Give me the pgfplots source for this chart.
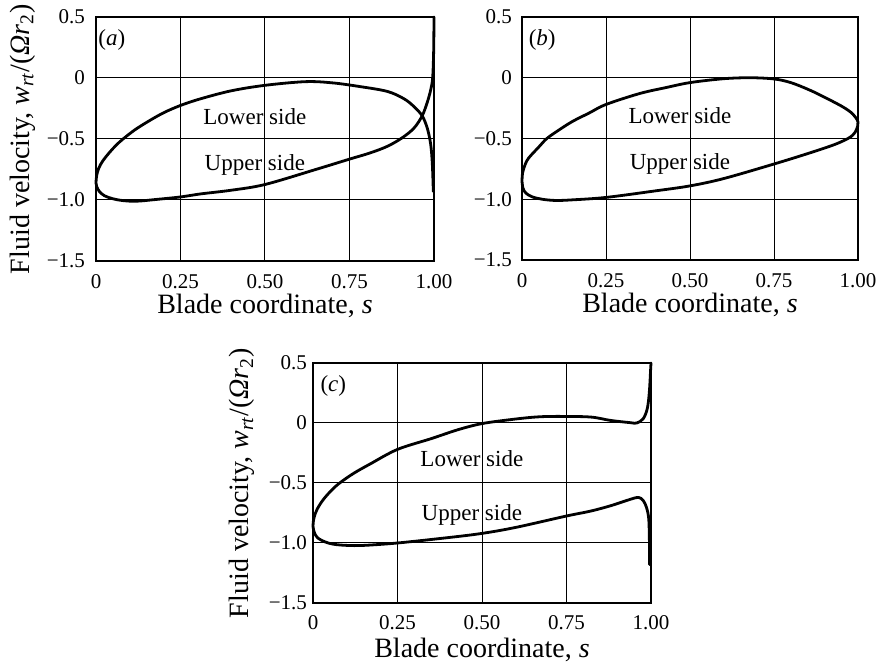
\documentclass[border=0pt]{standalone}
\usepackage{fontspec}
\setmainfont{Liberation Serif}
\usepackage{pgfplots}
\pgfplotsset{compat=1.18}

\pgfplotsset{
  panel/.style={
    scale only axis,
    width=169pt, height=122pt,
    xmin=0, xmax=1, ymin=-1.5, ymax=0.5,
    xtick={0,0.25,0.5,0.75,1},
    xticklabels={0,0.25,0.50,0.75,1.00},
    ytick={-1.5,-1,-0.5,0,0.5},
    yticklabels={−1.5,−1.0,−0.5,0,0.5},
    grid=major,
    major grid style={black, line width=0.5pt},
    major tick length=0pt,
    axis line style={black, line width=0.9pt},
    tick label style={font=\fontsize{10.5}{12}\selectfont},
    label style={font=\fontsize{14}{17}\selectfont},
    /pgf/number format/assume math mode=true,
    clip=false,
  },
}
\tikzset{
  curve/.style={black, line width=1.4pt, smooth, tension=0.55, line join=round, line cap=round},
  txt/.style={font=\fontsize{11.5}{14}\selectfont, inner sep=0pt},
}

\newcommand{\ylab}{Fluid velocity, \textit{w}\textsubscript{\textit{rt}}/(\textit{Ωr}\textsubscript{2})}
\newcommand{\xlab}{Blade coordinate, \textit{s}}

\begin{document}
\begin{tikzpicture}
\useasboundingbox (0,0) rectangle (442.5pt,332pt);

% ---------------- (a)
\begin{axis}[panel, at={(48pt,201.5pt)}, anchor=south west,
  xticklabel style={yshift=-3pt},
  yticklabel style={xshift=-2pt},
  ylabel={\ylab}, xlabel={\xlab},
  y label style={at={(axis description cs:-0.218,0.5)}, anchor=center},
  x label style={at={(axis description cs:0.5,-0.217)}, anchor=base},
]
\addplot[curve, mark=none] coordinates {
(1.000,0.50) (0.999,0.22) (0.996,0.0) (0.990,-0.10) (0.980,-0.20) (0.965,-0.31)
(0.941,-0.41) (0.906,-0.49) (0.862,-0.56) (0.81,-0.615) (0.75,-0.665) (0.65,-0.75)
(0.50,-0.873) (0.40,-0.92) (0.31,-0.95) (0.25,-0.975) (0.18,-0.995) (0.12,-1.01)
(0.08,-1.005) (0.05,-0.99) (0.025,-0.965) (0.01,-0.93) (0.002,-0.89) (0.0,-0.86)
(0.002,-0.80) (0.008,-0.74) (0.02,-0.68) (0.04,-0.61) (0.06,-0.55) (0.08,-0.50) (0.115,-0.425)
(0.155,-0.355) (0.20,-0.285) (0.25,-0.225) (0.31,-0.17) (0.40,-0.105) (0.50,-0.06)
(0.62,-0.03) (0.70,-0.04) (0.78,-0.07) (0.862,-0.11) (0.911,-0.17) (0.941,-0.235)
(0.965,-0.31) (0.980,-0.41) (0.990,-0.54) (0.995,-0.70) (0.998,-0.93)
};
\node[txt] at (axis cs:0.047,0.31) {(\textit{a})};
\node[txt] at (axis cs:0.47,-0.32) {Lower side};
\node[txt] at (axis cs:0.47,-0.71) {Upper side};
\end{axis}

% ---------------- (b)
\begin{axis}[panel, at={(261pt,202pt)}, anchor=south west,
  width=168pt, height=121.5pt,
  xticklabel style={yshift=-3pt},
  yticklabel style={xshift=-1.5pt},
  xlabel={\xlab},
  x label style={at={(axis description cs:0.5,-0.217)}, anchor=base},
]
\addplot[curve, mark=none] coordinates {
(0.0,-0.85) (0.002,-0.78) (0.01,-0.71) (0.02,-0.66) (0.05,-0.57) (0.074,-0.50)
(0.11,-0.43) (0.15,-0.36) (0.20,-0.29) (0.25,-0.22) (0.35,-0.13) (0.43,-0.08)
(0.50,-0.04) (0.60,-0.008) (0.68,0.0) (0.75,-0.01) (0.80,-0.04) (0.855,-0.10)
(0.90,-0.16) (0.955,-0.24) (0.985,-0.30) (1.0,-0.365) (0.995,-0.43) (0.985,-0.47)
(0.97,-0.50) (0.93,-0.55) (0.855,-0.62) (0.75,-0.71) (0.60,-0.83) (0.50,-0.89)
(0.40,-0.93) (0.25,-0.985) (0.15,-1.005) (0.10,-1.01) (0.06,-1.0) (0.03,-0.98)
(0.012,-0.95) (0.003,-0.91) (0.0,-0.85)
};
\node[txt] at (axis cs:0.06,0.31) {(\textit{b})};
\node[txt] at (axis cs:0.47,-0.31) {Lower side};
\node[txt] at (axis cs:0.47,-0.71) {Upper side};
\end{axis}

% ---------------- (c)
\begin{axis}[panel, at={(156.5pt,30.5pt)}, anchor=south west,
  height=120pt,
  xticklabel style={yshift=-2.7pt},
  yticklabel style={xshift=0.5pt},
  ylabel={\ylab}, xlabel={\xlab},
  y label style={at={(axis description cs:-0.21,0.5)}, anchor=center},
  x label style={at={(axis description cs:0.5,-0.229)}, anchor=base},
]
\addplot[curve, mark=none] coordinates {
(0.996,-1.18) (0.995,-0.93) (0.993,-0.79) (0.987,-0.706) (0.977,-0.646) (0.963,-0.62)
(0.94,-0.635) (0.88,-0.69) (0.82,-0.735) (0.75,-0.775) (0.60,-0.87) (0.50,-0.92)
(0.40,-0.955) (0.25,-1.0) (0.15,-1.02) (0.10,-1.02) (0.06,-1.01) (0.035,-0.99)
(0.015,-0.96) (0.005,-0.92) (0.0,-0.86) (0.003,-0.79) (0.012,-0.72) (0.03,-0.64)
(0.055,-0.56) (0.079,-0.50) (0.12,-0.42) (0.17,-0.34) (0.25,-0.22) (0.35,-0.13)
(0.43,-0.055) (0.50,-0.005) (0.59,0.03) (0.66,0.05) (0.72,0.055) (0.82,0.05)
(0.879,0.022) (0.938,0.003) (0.958,0.0) (0.977,0.036) (0.989,0.12) (0.995,0.255)
(0.999,0.45) (1.0,0.5)
};
\node[txt] at (axis cs:0.06,0.31) {(\textit{c})};
\node[txt] at (axis cs:0.47,-0.30) {Lower side};
\node[txt] at (axis cs:0.47,-0.77) {Upper side};
\end{axis}
\end{tikzpicture}
\end{document}
